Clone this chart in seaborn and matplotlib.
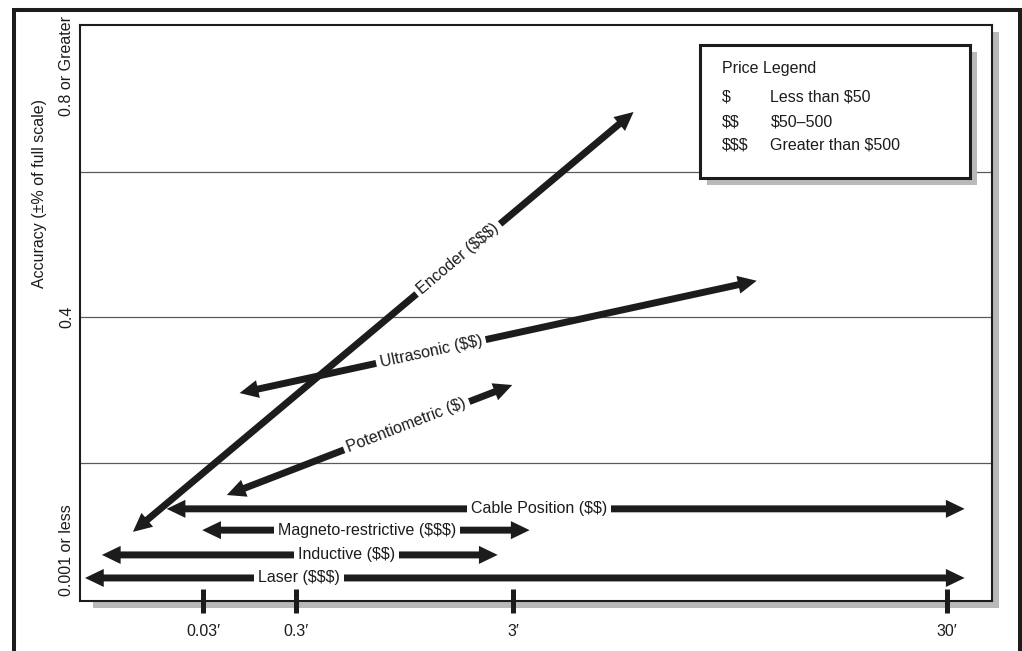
import numpy as np
import matplotlib.pyplot as plt
from matplotlib.patches import Rectangle, FancyArrowPatch
import seaborn as sns

# --- data (chart units: x and y both run 0-100 across the plot box) ---
dist_ticks = [13.5, 23.7, 47.5, 95.1]
dist_labels = ['0.03′', '0.3′', '3′', '30′']

acc_ticks = [8.9, 49.3, 92.9]
acc_labels = ['0.001 or less', '0.4', '0.8 or Greater']
grid_levels = [24.0, 49.3, 74.5]

sensors = ['Laser ($$$)', 'Inductive ($$)', 'Magneto-restrictive ($$$)',
           'Cable Position ($$)', 'Encoder ($$$)', 'Ultrasonic ($$)',
           'Potentiometric ($)']
x_lo = [0.55, 2.4, 13.4, 9.5, 5.8, 17.5, 16.1]
y_lo = [4.0, 8.0, 12.3, 16.0, 12.0, 36.1, 18.4]
x_hi = [97.0, 45.8, 49.3, 97.0, 60.7, 74.2, 47.4]
y_hi = [4.0, 8.0, 12.3, 16.0, 84.9, 55.6, 37.5]
label_at = [0.243, 0.619, 0.503, 0.467, 0.65, 0.37, 0.63]  # where the label sits along the arrow

price_symbols = ['$', '$$', '$$$']
price_ranges = ['Less than $50', '$50–500', 'Greater than $500']

# --- style ---
sns.set_theme(style='white')
plt.rcParams['font.family'] = ['Liberation Sans', 'DejaVu Sans']
plt.rcParams['font.size'] = 11.5
ink = '#1c1c1c'

W, H = 1022, 651
fig = plt.figure(figsize=(W / 100, H / 100), dpi=100)
fig.patch.set_facecolor('white')

# plot box in pixels
left, right, top, bottom = 80, 992, 25, 601
ax = fig.add_axes([left / W, (H - bottom) / H, (right - left) / W, (bottom - top) / H])

# drop shadow of the plot box
fig.add_artist(Rectangle((93 / W, (H - 608) / H), (999 - 93) / W, (608 - 32) / H,
                         transform=fig.transFigure, facecolor='#b9b9b9',
                         edgecolor='none', zorder=-1))
# outer frame, runs off the bottom of the page
fig.add_artist(Rectangle((13.5 / W, -0.05), (1020 - 13.5) / W, (1 - 10 / H) + 0.05,
                         transform=fig.transFigure, fill=False, lw=2.9,
                         edgecolor=ink, zorder=5))

ax.set_xlim(0, 100)
ax.set_ylim(0, 100)
for s in ax.spines.values():
    s.set_visible(True)
    s.set_color(ink)
    s.set_linewidth(1.5)

for g in grid_levels:
    ax.axhline(g, color='#5a5a5a', lw=0.9, zorder=1)

# --- arrows ---
for name, x0, y0, x1, y1, t in zip(sensors, x_lo, y_lo, x_hi, y_hi, label_at):
    xm, ym = x0 + t * (x1 - x0), y0 + t * (y1 - y0)
    for xe, ye in [(x0, y0), (x1, y1)]:
        ax.add_patch(FancyArrowPatch(
            (xm, ym), (xe, ye),
            arrowstyle='simple,head_length=1.35,head_width=1.3,tail_width=0.5',
            mutation_scale=10, shrinkA=0, shrinkB=0,
            color=ink, lw=0, zorder=3))
    p0 = ax.transData.transform((x0, y0))
    p1 = ax.transData.transform((x1, y1))
    ang = np.degrees(np.arctan2(p1[1] - p0[1], p1[0] - p0[0]))
    ax.text(xm, ym, name, rotation=ang, rotation_mode='anchor',
            ha='center', va='center', color=ink, zorder=4, parse_math=False,
            bbox=dict(facecolor='white', edgecolor='none', pad=2.8))

# --- axes ticks ---
ax.set_xticks(dist_ticks, dist_labels)
ax.tick_params(axis='x', bottom=True, top=False, direction='inout', length=17,
               width=3.6, color=ink, pad=8, labelsize=11.5, labelcolor=ink)
ax.set_yticks(acc_ticks, acc_labels, rotation=90, va='center')
ax.tick_params(axis='y', left=False, length=0, pad=4, labelsize=11.5, labelcolor=ink)
ax.set_ylabel('Accuracy (±% of full scale)', fontsize=11.5, color=ink)
ax.yaxis.set_label_coords(-0.036, 0.708)

# --- price legend box ---
lx0, lx1, ly0, ly1 = 0.680, 0.976, 0.734, 0.965
ax.add_patch(Rectangle((lx0 + 0.0077, ly0 - 0.0122), lx1 - lx0, ly1 - ly0,
                       transform=ax.transAxes, facecolor='#b9b9b9',
                       edgecolor='none', zorder=5))
ax.add_patch(Rectangle((lx0, ly0), lx1 - lx0, ly1 - ly0, transform=ax.transAxes,
                       facecolor='white', edgecolor=ink, lw=2.2, zorder=6))
ax.text(0.704, 0.924, 'Price Legend', transform=ax.transAxes, va='center',
        color=ink, zorder=7)
for yy, sym, rng in zip([0.875, 0.832, 0.792], price_symbols, price_ranges):
    ax.text(0.704, yy, sym, transform=ax.transAxes, va='center', color=ink,
            zorder=7, parse_math=False)
    ax.text(0.757, yy, rng, transform=ax.transAxes, va='center', color=ink,
            zorder=7, parse_math=False)

fig.savefig('out.png', dpi=100)
